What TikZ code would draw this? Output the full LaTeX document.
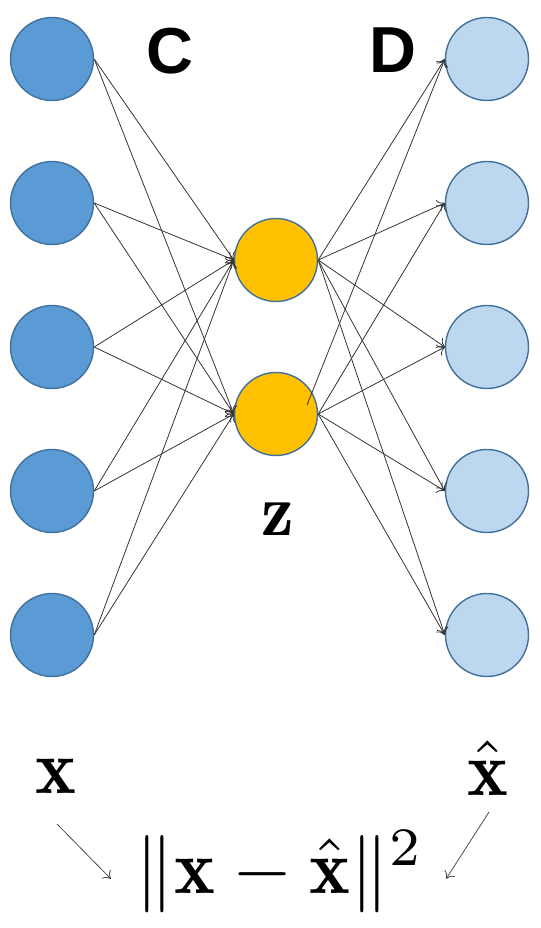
\documentclass[tikz,border=0pt]{standalone}
\usepackage{fontspec}
\setsansfont{Liberation Sans}
\usepackage{tikz}
\usetikzlibrary{arrows, arrows.meta, shapes, positioning}

\definecolor{inblue}{HTML}{5B9BD5}
\definecolor{outblue}{HTML}{BDD7EE}
\definecolor{codeyellow}{HTML}{FFC000}
\definecolor{rimblue}{HTML}{41719C}

\tikzset{
    unit/.style={circle, draw=rimblue, line width=0.8pt, minimum size=1.66cm, inner sep=0pt},
    inunit/.style={unit, fill=inblue},
    codeunit/.style={unit, fill=codeyellow},
    outunit/.style={unit, fill=outblue},
    wire/.style={-{To[length=4pt, width=7pt]}, draw=black!80, line width=0.45pt},
    netlabel/.style={font=\sffamily\bfseries, scale=3.7},
    mathlabel/.style={scale=4.4}
}

\begin{document}
\begin{tikzpicture}[x=0.02cm, y=-0.02cm]
            \useasboundingbox (0, 0) rectangle (540, 928);

            \node[inunit] (x1) at (52, 59) {};
            \node[inunit] (x2) at (52, 203) {};
            \node[inunit] (x3) at (52, 347) {};
            \node[inunit] (x4) at (52, 491) {};
            \node[inunit] (x5) at (52, 635) {};

            \node[codeunit] (z1) at (276, 260) {};
            \node[codeunit] (z2) at (276, 414) {};

            \node[outunit] (y1) at (487, 59) {};
            \node[outunit] (y2) at (487, 203) {};
            \node[outunit] (y3) at (487, 347) {};
            \node[outunit] (y4) at (487, 491) {};
            \node[outunit] (y5) at (487, 635) {};

            \node[netlabel] (c) at (170, 51) {C};
            \node[netlabel] (d) at (393, 50) {D};
            \node[mathlabel, scale=0.95] (z) at (278, 519) {$\mathbf{z}$};

            \node[mathlabel] (x) at (56, 776) {$\mathbf{x}$};
            \node[mathlabel] (xhat) at (488, 768) {$\hat{\mathbf{x}}$};
            \node[mathlabel] (loss) at (280, 872) {$\|\mathbf{x}-\hat{\mathbf{x}}\|^2$};

            \coordinate (z2in) at (307, 405);

            % encoder
            \draw[wire] (x1.east) -- (z1.west);
            \draw[wire] (x1.east) -- (z2.west);
            \draw[wire] (x2.east) -- (z1.west);
            \draw[wire] (x2.east) -- (z2.west);
            \draw[wire] (x3.east) -- (z1.west);
            \draw[wire] (x3.east) -- (z2.west);
            \draw[wire] (x4.east) -- (z1.west);
            \draw[wire] (x4.east) -- (z2.west);
            \draw[wire] (x5.east) -- (z1.west);
            \draw[wire] (x5.east) -- (z2.west);

            % decoder
            \draw[wire] (z1.east) -- (y1.west);
            \draw[wire] (z1.east) -- (y2.west);
            \draw[wire] (z1.east) -- (y3.west);
            \draw[wire] (z1.east) -- (y4.west);
            \draw[wire] (z1.east) -- (y5.west);
            \draw[wire] (z2in) -- (y1.west);
            \draw[wire] (z2.east) -- (y2.west);
            \draw[wire] (z2.east) -- (y3.west);
            \draw[wire] (z2.east) -- (y4.west);
            \draw[wire] (z2.east) -- (y5.west);

            % loss
            \coordinate (xfoot) at (57, 824);
            \coordinate (xhatfoot) at (489, 812);
            \coordinate (lossin) at (111, 879);
            \coordinate (losshatin) at (446, 879);
            \draw[wire, draw=black!70] (xfoot) -- (lossin);
            \draw[wire, draw=black!70] (xhatfoot) -- (losshatin);
        \end{tikzpicture}
\end{document}
